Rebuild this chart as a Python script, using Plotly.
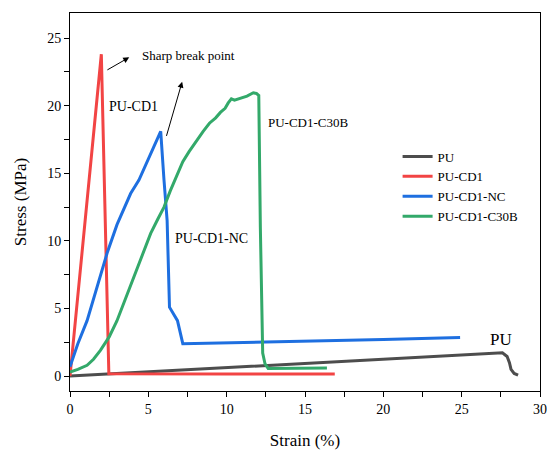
import plotly.graph_objects as go

# ---- data ----
pu_x = [0, 5, 10, 15, 20, 25, 27.6, 27.9, 28.05, 28.15, 28.35, 28.6]
pu_y = [0, 0.31, 0.62, 0.94, 1.25, 1.56, 1.72, 1.45, 1.0, 0.5, 0.2, 0.07]

cd1_x = [0, 1.62, 2.0, 2.48, 5, 10, 16.9]
cd1_y = [0, 18.9, 23.8, 0.18, 0.16, 0.15, 0.15]

nc_x = [0, 0.5, 1.09, 1.7, 2.37, 3.0, 3.5, 3.87, 4.4, 5.0, 5.79, 6.0, 6.2, 6.35, 6.86, 7.2,
        10, 15, 20, 24.9]
nc_y = [0.7, 2.4, 4.1, 6.5, 9.1, 11.2, 12.6, 13.5, 14.5, 16.0, 18.1, 14.5, 11.5, 5.1, 4.1, 2.4,
        2.46, 2.58, 2.7, 2.86]

c30b_x = [0, 0.5, 1.09, 1.5, 1.94, 2.5, 3.0, 3.5, 4.08, 4.6, 5.15, 5.6, 6.0, 6.4, 6.86, 7.2,
          7.6, 8.0, 8.5, 8.9, 9.3, 9.6, 9.9, 10.1, 10.3, 10.5, 10.8, 11.0, 11.3, 11.7, 11.9,
          12.05, 12.15, 12.3, 12.45, 12.65, 14.0, 16.4]
c30b_y = [0.3, 0.5, 0.8, 1.25, 1.9, 2.9, 4.1, 5.6, 7.3, 8.9, 10.55, 11.6, 12.5, 13.7, 15.0, 15.85,
          16.6, 17.3, 18.1, 18.7, 19.1, 19.5, 19.8, 20.2, 20.5, 20.4, 20.5, 20.55, 20.7, 20.95, 20.9,
          20.75, 11.0, 1.7, 0.9, 0.57, 0.57, 0.6]

series_names = ["PU", "PU-CD1", "PU-CD1-NC", "PU-CD1-C30B"]
series_colors = ["#4D4D4D", "#F24444", "#1E6FE0", "#33A96A"]

x_ticks = [0, 5, 10, 15, 20, 25, 30]
y_ticks = [0, 5, 10, 15, 20, 25]

FONT = "Times New Roman, Liberation Serif, serif"

fig = go.Figure()
for name, xs, ys, col in zip(series_names, [pu_x, cd1_x, nc_x, c30b_x],
                             [pu_y, cd1_y, nc_y, c30b_y], series_colors):
    fig.add_trace(go.Scatter(x=xs, y=ys, mode="lines", name=name,
                             line=dict(color=col, width=3)))

# text labels
labels = [
    ("Sharp break point", 4.47, 23.74, 13),
    ("PU-CD1", 2.33, 19.92, 14),
    ("PU-CD1-NC", 6.6, 10.2, 14),
    ("PU-CD1-C30B", 12.54, 18.76, 13),
    ("PU", 26.7, 2.71, 17),
]
for txt, x, y, s in labels:
    fig.add_annotation(x=x, y=y, text=txt, showarrow=False, xanchor="left",
                       yanchor="middle", font=dict(family=FONT, size=s, color="black"))

# arrows
arrows = [((2.29, 22.58), (3.78, 23.57)), ((6.13, 17.65), (7.16, 21.77))]
for (tx, ty), (hx, hy) in arrows:
    fig.add_annotation(x=hx, y=hy, ax=tx, ay=ty, axref="x", ayref="y", xref="x", yref="y",
                       text="", showarrow=True, arrowhead=2, arrowsize=1.2,
                       arrowwidth=1, arrowcolor="black")

axis_common = dict(showline=True, linecolor="black", linewidth=1, mirror=True,
                   ticks="outside", ticklen=5, tickcolor="black", showgrid=False,
                   zeroline=False, automargin=False,
                   tickfont=dict(family=FONT, size=14, color="black"),
                   minor=dict(ticks="outside", ticklen=5, dtick=2.5, tickcolor="black",
                              showgrid=False))

fig.update_xaxes(range=[0, 30], tickvals=x_ticks,
                 title=dict(text="Strain (%)", font=dict(family=FONT, size=17, color="black"),
                            standoff=18),
                 **axis_common)
fig.update_yaxes(range=[-1.1, 26.85], tickvals=y_ticks,
                 title=dict(text="Stress (MPa)", font=dict(family=FONT, size=17, color="black"),
                            standoff=16),
                 **axis_common)

fig.update_layout(
    width=547, height=450,
    margin=dict(l=70, r=7, t=13, b=59),
    paper_bgcolor="white", plot_bgcolor="white",
    legend=dict(x=0.697, y=0.66, xanchor="left", yanchor="top",
                font=dict(family=FONT, size=13, color="black"),
                bgcolor="rgba(0,0,0,0)", tracegroupgap=0),
    showlegend=True,
)

fig.write_html("out.html")
